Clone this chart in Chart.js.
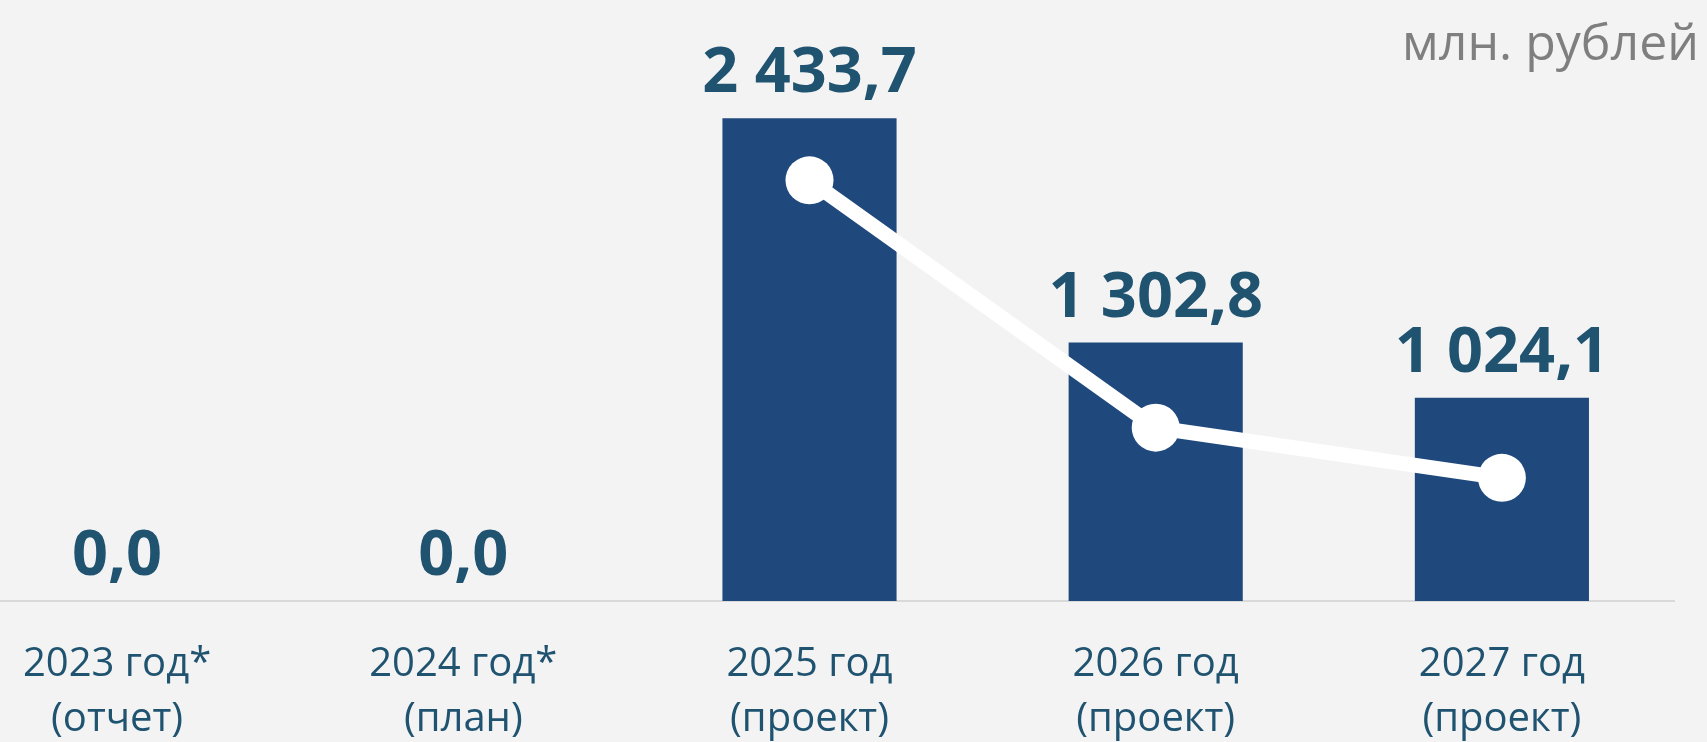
<!DOCTYPE html>
<html>
<head>
<meta charset="utf-8">
<script src="https://cdn.jsdelivr.net/npm/chart.js@4/dist/chart.umd.min.js"></script>
<style>
  html, body { margin: 0; padding: 0; background: #f3f3f3; overflow: hidden; }
  body { width: 1707px; height: 742px; position: relative; }
  #wrap { position: absolute; left: -56px; top: 0; width: 1731px; height: 783px; }
  #unit {
    position: absolute; right: 8px; top: 16px;
    font: 50px "Open Sans", sans-serif; line-height: 1; color: #7f7f7f;
  }
</style>
</head>
<body>
<div id="wrap"><canvas id="budgetChart"></canvas></div>
<div id="unit">млн. рублей</div>
<script>
// Category labels (two lines each)
const years = [
  ['2023 год*', '(отчет)'],
  ['2024 год*', '(план)'],
  ['2025 год', '(проект)'],
  ['2026 год', '(проект)'],
  ['2027 год', '(проект)']
];

// Bar values, mln rubles
const amounts = [0.0, 0.0, 2433.7, 1302.8, 1024.1];

// White trend line (no labels on it), read off the picture on the same scale
const trend = [null, null, 2121, 874, 621];

// Format like "2 433,7"
function fmt(v) {
  const parts = v.toFixed(1).split('.');
  const whole = parts[0].replace(/\B(?=(\d{3})+(?!\d))/g, ' ');
  return whole + ',' + parts[1];
}

// Draw value labels over the bars
const valueLabels = {
  id: 'valueLabels',
  afterDatasetsDraw(chart) {
    const ctx = chart.ctx;
    const meta = chart.getDatasetMeta(1);
    ctx.save();
    ctx.font = 'bold 63px "Open Sans", sans-serif';
    ctx.fillStyle = '#1f5370';
    ctx.textAlign = 'center';
    ctx.textBaseline = 'alphabetic';
    meta.data.forEach((bar, i) => {
      ctx.fillText(fmt(amounts[i]), bar.x, bar.y - 26);
    });
    ctx.restore();
  }
};

const ctx = document.getElementById('budgetChart').getContext('2d');

new Chart(ctx, {
  type: 'bar',
  data: {
    labels: years,
    datasets: [
      {
        type: 'line',
        data: trend,
        borderColor: '#ffffff',
        borderWidth: 15,
        pointRadius: 24,
        pointBackgroundColor: '#ffffff',
        pointBorderWidth: 0,
        pointHoverRadius: 24,
        clip: false,
        order: 0
      },
      {
        type: 'bar',
        data: amounts,
        backgroundColor: '#1f497d',
        categoryPercentage: 1,
        barPercentage: 0.503,
        order: 1
      }
    ]
  },
  options: {
    responsive: true,
    maintainAspectRatio: false,
    animation: false,
    layout: { padding: 0, autoPadding: false },
    plugins: {
      legend: { display: false },
      tooltip: { enabled: false }
    },
    scales: {
      x: {
        grid: { display: false, drawTicks: false },
        border: { display: true, color: '#d9d9d9', width: 2 },
        ticks: {
          color: '#1f5370',
          padding: 36,
          maxRotation: 0,
          autoSkip: false,
          font: { family: '"Open Sans", sans-serif', size: 40, lineHeight: 1.375 }
        }
      },
      y: {
        display: false,
        min: 0,
        max: 3030
      }
    }
  },
  plugins: [valueLabels]
});
</script>
</body>
</html>
